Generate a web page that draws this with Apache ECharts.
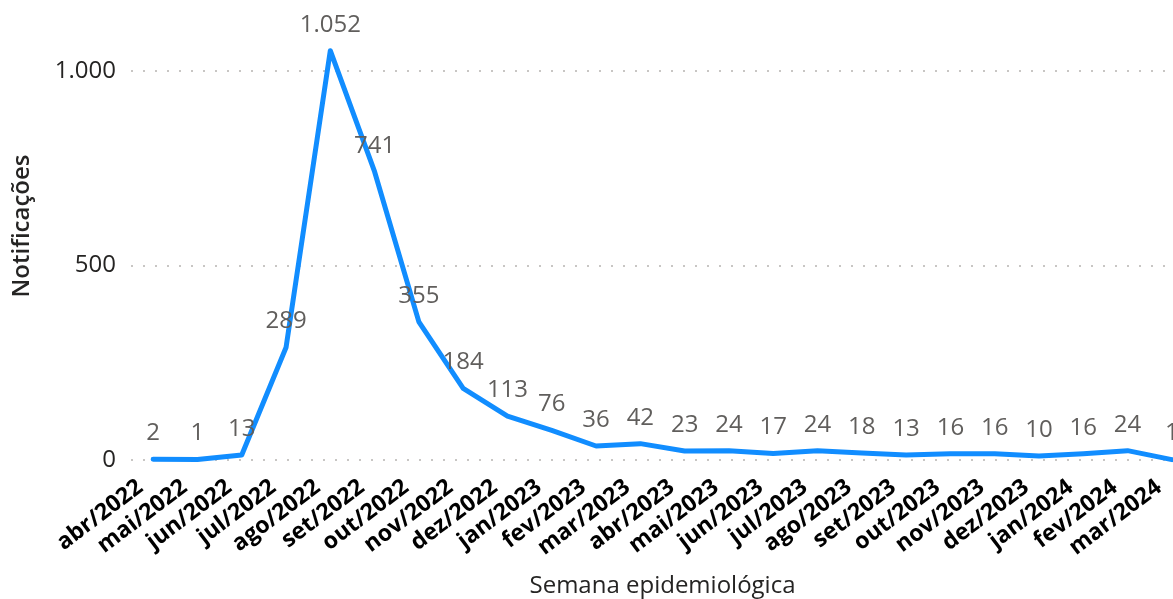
<!DOCTYPE html>
<html>
<head>
<meta charset="utf-8">
<script src="https://cdn.jsdelivr.net/npm/echarts@6/dist/echarts.min.js"></script>
<style>
html,body{margin:0;padding:0;background:#fff;}
#chart{width:1173px;height:599px;}
</style>
</head>
<body>
<div id="chart"></div>
<script>
const categories = ['abr/2022','mai/2022','jun/2022','jul/2022','ago/2022','set/2022','out/2022','nov/2022','dez/2022','jan/2023','fev/2023','mar/2023','abr/2023','mai/2023','jun/2023','jul/2023','ago/2023','set/2023','out/2023','nov/2023','dez/2023','jan/2024','fev/2024','mar/2024'];
const notificacoes = [2,1,13,289,1052,741,355,184,113,76,36,42,23,24,17,24,18,13,16,16,10,16,24,1];
const yTicks = [0, 500, 1000];

function fmt(v){ return String(v).replace(/\B(?=(\d{3})+(?!\d))/g, '.'); }

const chart = echarts.init(document.getElementById('chart'), null, {renderer:'canvas'});
chart.setOption({
  animation:false,
  backgroundColor:'#ffffff',
  textStyle:{fontFamily:'Open Sans'},
  grid:{left:131, right:-21, top:32, bottom:139, containLabel:false, outerBoundsMode:'none'},
  xAxis:{
    type:'category',
    data:categories,
    boundaryGap:true,
    axisLine:{show:false},
    axisTick:{show:false},
    axisLabel:{
      rotate:37,
      interval:0,
      margin:15,
      fontSize:23,
      fontWeight:'bold',
      color:'#000000',
      fontFamily:'Open Sans',
      padding:[0,16,0,0]
    },
    name:'Semana epidemiológica',
    nameLocation:'middle',
    nameGap:114,
    nameTextStyle:{fontSize:24, color:'#252423', fontFamily:'Open Sans'}
  },
  yAxis:{
    type:'value',
    min:0,
    max:1100,
    interval:500,
    axisLine:{show:false},
    axisTick:{show:false},
    axisLabel:{
      margin:15,
      fontSize:24,
      color:'#252423',
      showMaxLabel:false,
      formatter:function(v){ return yTicks.indexOf(v) >= 0 ? fmt(v) : ''; }
    },
    splitLine:{show:true, showMaxLine:false, lineStyle:{color:'#C8C6C4', width:2, type:[2,10]}},
    name:'Notificações',
    nameLocation:'middle',
    nameGap:97,
    nameTextStyle:{fontSize:24, color:'#252423', fontWeight:600, fontFamily:'Open Sans', padding:[0,0,0,40]}
  },
  series:[{
    type:'line',
    data:notificacoes,
    showSymbol:true,
    symbol:'circle',
    symbolSize:0,
    lineStyle:{color:'#118DFF', width:5, join:'round', cap:'round'},
    itemStyle:{color:'#118DFF'},
    label:{
      show:true,
      position:'top',
      distance:14,
      fontSize:24,
      color:'#605E5C',
      fontFamily:'Open Sans',
      formatter:function(p){ return fmt(p.value); }
    },
    labelLayout:{hideOverlap:false}
  }]
});
</script>
</body>
</html>
